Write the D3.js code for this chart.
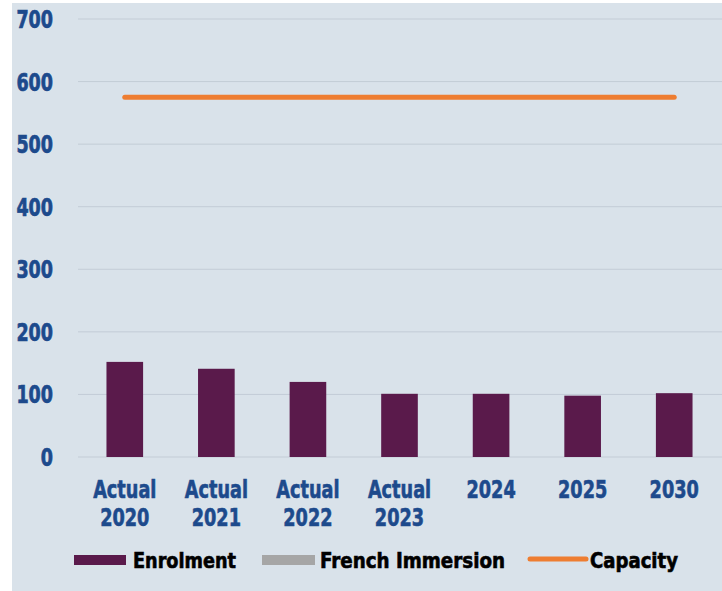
<!DOCTYPE html>
<html>
<head>
<meta charset="utf-8">
<script src="https://cdn.jsdelivr.net/npm/d3@7"></script>
<style>
  body { margin: 0; background: #fff; }
  svg text { font-family: "DejaVu Sans Condensed", "DejaVu Sans", sans-serif; font-weight: bold; }
</style>
</head>
<body>
<svg id="chart" width="722" height="591"></svg>
<script>
const categories = [['Actual', '2020'], ['Actual', '2021'], ['Actual', '2022'], ['Actual', '2023'], ['2024'], ['2025'], ['2030']];
const enrolment = [152, 141, 120, 101, 101, 98, 102];
const capacity = [575, 575, 575, 575, 575, 575, 575];
const yTicks = [0, 100, 200, 300, 400, 500, 600, 700];
const legendItems = ['Enrolment', 'French Immersion', 'Capacity'];

const svg = d3.select('#chart');

svg.append('rect')
    .attr('x', 12).attr('y', 3)
    .attr('width', 710).attr('height', 588)
    .attr('fill', '#d9e2ea');

const x = d3.scaleBand()
    .domain(d3.range(categories.length))
    .range([79, 720])
    .paddingInner(0.6)
    .paddingOuter(0.3);

const y = d3.scaleLinear()
    .domain([0, 700])
    .range([457, 19]);

// gridlines
svg.append('g')
  .selectAll('line')
  .data(yTicks)
  .join('line')
    .attr('x1', 78).attr('x2', 722)
    .attr('y1', d => y(d)).attr('y2', d => y(d))
    .attr('stroke', '#c3ccd6')
    .attr('stroke-width', 1);

// y axis labels (squeezed to look like the condensed original font)
svg.append('g')
  .selectAll('text')
  .data(yTicks)
  .join('text')
    .attr('transform', d => `translate(53,${y(d) + 9}) scale(0.78,1)`)
    .attr('text-anchor', 'end')
    .attr('fill', '#1d4a8c')
    .attr('stroke', '#1d4a8c')
    .attr('stroke-width', 0.7)
    .style('font-size', '25px')
    .text(d => d);

// bars
svg.append('g')
  .selectAll('rect')
  .data(enrolment)
  .join('rect')
    .attr('x', (d, i) => x(i))
    .attr('y', d => y(d))
    .attr('width', x.bandwidth())
    .attr('height', d => y(0) - y(d))
    .attr('fill', '#5a1a4b');

// capacity line
const line = d3.line()
    .x((d, i) => x(i) + x.bandwidth() / 2)
    .y(d => y(d));

svg.append('path')
    .datum(capacity)
    .attr('d', line)
    .attr('fill', 'none')
    .attr('stroke', '#ee7d31')
    .attr('stroke-width', 5)
    .attr('stroke-linecap', 'round');

// x labels
const xl = svg.append('g')
  .selectAll('text')
  .data(categories)
  .join('text')
    .attr('transform', (d, i) => `translate(${x(i) + x.bandwidth() / 2},498) scale(0.82,1)`)
    .attr('text-anchor', 'middle')
    .attr('fill', '#1d4a8c')
    .attr('stroke', '#1d4a8c')
    .attr('stroke-width', 0.6)
    .style('font-size', '24px');
xl.selectAll('tspan')
  .data(d => d)
  .join('tspan')
    .attr('x', 0)
    .attr('dy', (d, i) => i === 0 ? 0 : 28)
    .text(d => d);

// legend
const lg = svg.append('g').style('font-size', '21px');
const legendText = (tx, label, w) => lg.append('text')
    .attr('transform', `translate(${tx},568) scale(0.9,1)`)
    .attr('fill', '#000')
    .attr('stroke', '#000')
    .attr('stroke-width', 0.6)
    .attr('textLength', w / 0.9)
    .attr('lengthAdjust', 'spacingAndGlyphs')
    .text(label);
lg.append('rect').attr('x', 74).attr('y', 555).attr('width', 52).attr('height', 10).attr('fill', '#5a1a4b');
legendText(133, legendItems[0], 103);
lg.append('rect').attr('x', 262).attr('y', 555).attr('width', 53).attr('height', 10).attr('fill', '#a6a6a6');
legendText(320, legendItems[1], 185);
lg.append('line').attr('x1', 530).attr('x2', 586).attr('y1', 559).attr('y2', 559)
    .attr('stroke', '#ee7d31').attr('stroke-width', 5).attr('stroke-linecap', 'round');
legendText(590, legendItems[2], 88);
</script>
</body>
</html>
